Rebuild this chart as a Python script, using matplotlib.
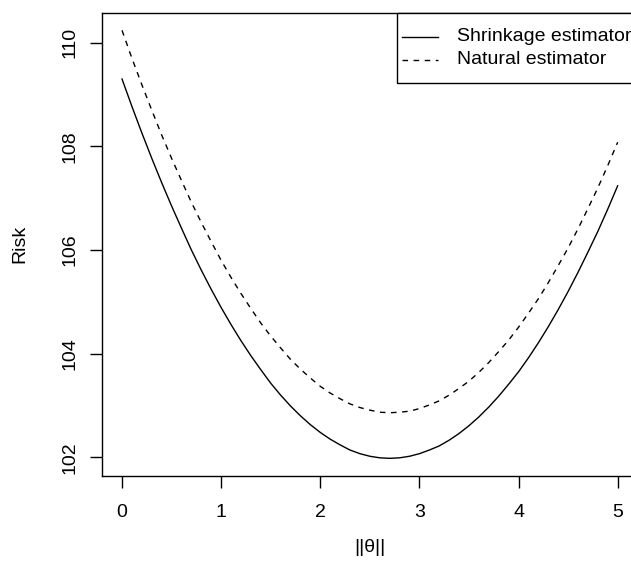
import matplotlib
matplotlib.use('Agg')
from matplotlib import pyplot as plt
from matplotlib.lines import Line2D
from matplotlib.patches import Rectangle

plt.rcParams['font.family'] = ['Liberation Sans', 'DejaVu Sans']

# risk curves, theta norm on a 0.1 grid
theta = [0.0, 0.1, 0.2, 0.3, 0.4, 0.5, 0.6, 0.7, 0.8, 0.9,
         1.0, 1.1, 1.2, 1.3, 1.4, 1.5, 1.6, 1.7, 1.8, 1.9,
         2.0, 2.1, 2.2, 2.3, 2.4, 2.5, 2.6, 2.7, 2.8, 2.9,
         3.0, 3.1, 3.2, 3.3, 3.4, 3.5, 3.6, 3.7, 3.8, 3.9,
         4.0, 4.1, 4.2, 4.3, 4.4, 4.5, 4.6, 4.7, 4.8, 4.9, 5.0]
shrinkage = [109.30, 108.77, 108.26, 107.77, 107.30, 106.85, 106.42, 106.00, 105.61, 105.24,
             104.89, 104.56, 104.25, 103.96, 103.69, 103.43, 103.20, 102.99, 102.80, 102.63,
             102.48, 102.35, 102.24, 102.14, 102.07, 102.02, 101.99, 101.98, 101.99, 102.02,
             102.07, 102.14, 102.22, 102.33, 102.46, 102.61, 102.78, 102.97, 103.18, 103.41,
             103.65, 103.92, 104.21, 104.52, 104.85, 105.20, 105.57, 105.96, 106.36, 106.79,
             107.24]
natural = [110.24, 109.70, 109.19, 108.70, 108.22, 107.77, 107.34, 106.92, 106.53, 106.16,
           105.80, 105.47, 105.16, 104.87, 104.59, 104.34, 104.11, 103.89, 103.70, 103.53,
           103.37, 103.24, 103.13, 103.03, 102.96, 102.91, 102.87, 102.86, 102.87, 102.89,
           102.94, 103.01, 103.09, 103.20, 103.33, 103.47, 103.64, 103.83, 104.04, 104.26,
           104.51, 104.78, 105.06, 105.37, 105.70, 106.04, 106.41, 106.80, 107.20, 107.63,
           108.08]
xticks = [0, 1, 2, 3, 4, 5]
yticks = [102, 104, 106, 108, 110]
labels = ['Shrinkage estimator', 'Natural estimator']
dash = (0, (4, 4))
FS = 14

W, H = 631, 567
fig = plt.figure(figsize=(W / 100, H / 100), dpi=100)
# plot box runs past the right edge of the picture, like the reference
ax = fig.add_axes([102.2 / W, (H - 475.7) / H, (637.5 - 102.2) / W, (475.7 - 12.7) / H])

ax.plot(theta, shrinkage, color='black', lw=1.0)
ax.plot(theta, natural, color='black', lw=1.0, linestyle=dash)

ax.set_xlim(-0.2, 5.2)
ax.set_ylim(101.645, 110.58)
ax.set_xticks(xticks)
ax.set_yticks(yticks)
ax.set_yticklabels([str(v) for v in yticks], rotation=90, va='center')
ax.tick_params(direction='out', length=8.4, width=1.0, labelsize=FS, color='black')
ax.tick_params(axis='x', pad=12)
ax.tick_params(axis='y', pad=8.5)
for s in ax.spines.values():
    s.set_linewidth(1.0)

fig.text(369.8 / W, 1 - 548 / H, '||θ||', ha='center', va='center', fontsize=FS)
fig.text(19.5 / W, 1 - 244 / H, 'Risk', ha='center', va='center', rotation=90, fontsize=FS)

# R style legend box in the top right corner (pixel layout of the reference)
def px(x, y):
    return x / W, 1 - y / H

x0, y0 = px(397.3, 82.7)
x1, y1 = px(637.5, 12.7)
fig.patches.append(Rectangle((x0, y0), x1 - x0, y1 - y0, transform=fig.transFigure,
                             facecolor='white', edgecolor='black', lw=1.0, zorder=5))
for i, (lab, ls) in enumerate(zip(labels, ['-', dash])):
    ya = 36.5 + 23 * i
    xa, yy = px(401.7, ya)
    xb, _ = px(438.3, ya)
    fig.lines.append(Line2D([xa, xb], [yy, yy], transform=fig.transFigure,
                            color='black', lw=1.0, linestyle=ls, zorder=6))
    fig.text(px(456.7, ya)[0], yy, lab, ha='left', va='center', fontsize=FS, zorder=6)

fig.savefig('out.png', dpi=100)
